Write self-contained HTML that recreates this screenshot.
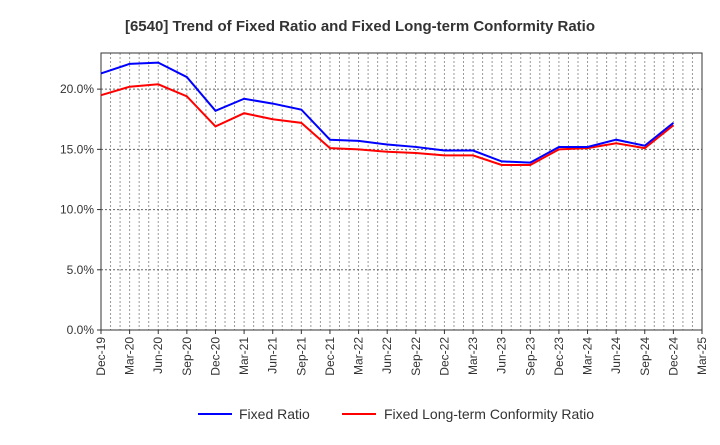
<!DOCTYPE html>
<html><head><meta charset="utf-8"><style>
body{margin:0;background:#fff;font-family:"Liberation Sans",sans-serif;}
</style></head><body>
<svg id="c" width="720" height="440" xmlns="http://www.w3.org/2000/svg">
<text x="360" y="31" text-anchor="middle" font-size="15" font-weight="bold" fill="#333">[6540]  Trend of Fixed Ratio and Fixed Long-term Conformity Ratio</text>
<g id="grid"></g><g id="axes"></g><g id="series"></g>
<g>
<line x1="198" y1="414" x2="232" y2="414" stroke="#0000ff" stroke-width="2"/>
<text x="239" y="419" font-size="14" fill="#333">Fixed Ratio</text>
<line x1="342" y1="414" x2="376" y2="414" stroke="#ff0000" stroke-width="2"/>
<text x="384" y="419" font-size="14" fill="#333">Fixed Long-term Conformity Ratio</text>
</g>
</svg>
<script>
const categories=["Dec-19","Mar-20","Jun-20","Sep-20","Dec-20","Mar-21","Jun-21","Sep-21","Dec-21","Mar-22","Jun-22","Sep-22","Dec-22","Mar-23","Jun-23","Sep-23","Dec-23","Mar-24","Jun-24","Sep-24","Dec-24","Mar-25"];
const fixedRatio=[21.3,22.1,22.2,21.0,18.2,19.2,18.8,18.3,15.8,15.7,15.4,15.2,14.9,14.9,14.0,13.9,15.2,15.2,15.8,15.3,17.2];
const conformityRatio=[19.5,20.2,20.4,19.4,16.9,18.0,17.5,17.2,15.1,15.0,14.8,14.7,14.5,14.5,13.7,13.7,15.0,15.1,15.5,15.1,17.0];
const yTicks=[0,5,10,15,20];
const yTickLabels=["0.0%","5.0%","10.0%","15.0%","20.0%"];
const L=101,R=702,T=53,B=330,yMax=23;
const NS="http://www.w3.org/2000/svg";
const n=categories.length-1;
const x=i=>L+(R-L)*i/n;
const y=v=>B-(B-T)*v/yMax;
function mk(t,a,p){const e=document.createElementNS(NS,t);for(const k in a)e.setAttribute(k,a[k]);p.appendChild(e);return e;}
const g=document.getElementById('grid'),ax=document.getElementById('axes'),s=document.getElementById('series');
for(let m=1;m<n*3;m++){const xx=L+(R-L)*m/(n*3);
const l=mk('line',{x1:xx,x2:xx,y1:T,y2:B,stroke:'#999','stroke-dasharray':'2,2','stroke-width':1},g);
}
yTicks.forEach((v,i)=>{if(v>0){const l=mk('line',{x1:L,x2:R,y1:y(v),y2:y(v),stroke:'#666','stroke-dasharray':'2,2'},g);
}
mk('line',{x1:L-4,x2:L,y1:y(v),y2:y(v),stroke:'#333'},ax);
const t=mk('text',{x:L-7,y:y(v)+4,'text-anchor':'end','font-size':12,fill:'#333'},ax);t.textContent=yTickLabels[i];
});
const fr=mk('rect',{x:L,y:T,width:R-L,height:B-T,fill:'none',stroke:'#333'},ax);

categories.forEach((c,i)=>{mk('line',{x1:x(i),x2:x(i),y1:B,y2:B+4,stroke:'#333'},ax);
const t=mk('text',{transform:`translate(${x(i)+4},${B+7}) rotate(-90)`,'text-anchor':'end','font-size':12,fill:'#333'},ax);t.textContent=c;
});
function line(d,col,name){const p=mk('polyline',{points:d.map((v,i)=>x(i)+','+y(v)).join(' '),fill:'none',stroke:col,'stroke-width':2},s);
}
line(conformityRatio,'#ff0000','conformity-ratio-line');
line(fixedRatio,'#0000ff','fixed-ratio-line');
</script>
</body></html>
